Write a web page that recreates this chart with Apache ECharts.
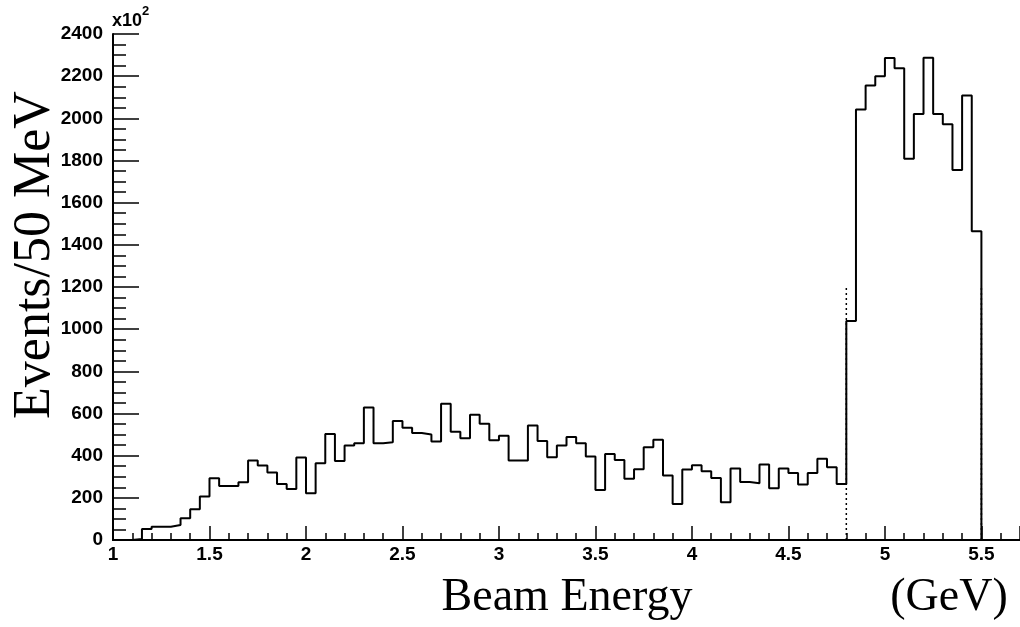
<!DOCTYPE html>
<html>
<head>
<meta charset="utf-8">
<script src="https://cdn.jsdelivr.net/npm/echarts@6/dist/echarts.min.js"></script>
<style>
html,body{margin:0;padding:0;background:#fff;}
#chart{width:1020px;height:627px;}
</style>
</head>
<body>
<div id="chart"></div>
<script>
// Histogram: Events per 50 MeV bin, bins start at 1.00 GeV
const binStart = 1.0;
const binWidth = 0.05;
const counts = [
  0, 0, 5, 52, 63, 63, 71, 103, 146, 206,
  293, 256, 256, 274, 377, 353, 320, 266, 242, 391,
  222, 364, 503, 375, 448, 459, 628, 459, 464, 564,
  533, 507, 500, 467, 646, 514, 483, 594, 551, 473,
  494, 377, 377, 543, 470, 393, 448, 488, 459, 396,
  237, 408, 380, 291, 336, 440, 476, 306, 171, 334,
  355, 326, 294, 179, 339, 275, 269, 358, 245, 339,
  318, 263, 318, 385, 345, 266, 1039, 2042, 2156, 2200,
  2286, 2238, 1808, 2021, 2287, 2021, 1972, 1755, 2108, 1464
];
// dotted cut lines (GeV) and their height
const cutPositions = [4.8, 5.5];
const cutHeight = 1200;

const xTitle = 'Beam Energy';
const xUnit = '(GeV)';
const yTitle = 'Events/50 MeV';
const yScaleBase = 'x10';
const yScaleExp = '2';

// build step-line data from bin edges
const histData = [];
counts.forEach((c, k) => {
  histData.push([+(binStart + k * binWidth).toFixed(4), c]);
});
const lastEdge = +(binStart + counts.length * binWidth).toFixed(4);
histData.push([lastEdge, counts[counts.length - 1]]);
histData.push([lastEdge, 0]);

const cutSeries = cutPositions.map(x => ({
  type: 'line',
  data: [[x, 0], [x, cutHeight]],
  symbol: 'none',
  lineStyle: { color: '#000', width: 1.5, type: [2, 3] },
  silent: true,
  z: 1
}));

const sans = "'Liberation Sans', Arial, sans-serif";
const labelFont = { fontFamily: sans, fontWeight: 'bold', fontSize: 19, color: '#000' };

const chart = echarts.init(document.getElementById('chart'), null, { renderer: 'canvas' });
chart.setOption({
  animation: false,
  backgroundColor: '#fff',
  grid: { left: 113, right: 0, top: 34, bottom: 87, containLabel: false },
  xAxis: [{
    type: 'value',
    min: 1, max: 5.7, interval: 0.5,
    axisLine: { show: true, onZero: false, lineStyle: { color: '#000', width: 2 } },
    axisTick: { show: true, inside: true, length: 14, lineStyle: { color: '#000', width: 1.5 } },
    minorTick: { show: true, splitNumber: 5, length: 7, lineStyle: { color: '#000', width: 1.5 } },
    splitLine: { show: false },
    axisLabel: Object.assign({ margin: 5, showMaxLabel: false, formatter: v => String(v) }, labelFont)
  }, {
    type: 'value', position: 'top',
    min: 1, max: 5.7,
    axisLine: { show: true, lineStyle: { color: '#000', width: 2 } },
    axisTick: { show: false }, axisLabel: { show: false }, splitLine: { show: false }
  }],
  yAxis: {
    type: 'value',
    min: 0, max: 2400, interval: 200,
    axisLine: { show: true, lineStyle: { color: '#000', width: 2 } },
    axisTick: { show: true, inside: true, length: 26, lineStyle: { color: '#000', width: 1.5 } },
    minorTick: { show: true, splitNumber: 4, length: 13, lineStyle: { color: '#000', width: 1.5 } },
    splitLine: { show: false },
    axisLabel: Object.assign({ margin: 10, formatter: v => String(v) }, labelFont)
  },
  series: [{
    type: 'line',
    data: histData,
    step: 'end',
    symbol: 'none',
    lineStyle: { color: '#000', width: 2 },
    silent: true,
    z: 3
  }].concat(cutSeries),
  graphic: [
    { type: 'text', left: 112, top: 12,
      style: { text: yScaleBase, fontFamily: sans, fontWeight: 'bold', fontSize: 18, fill: '#000' } },
    { type: 'text', left: 142, top: 5,
      style: { text: yScaleExp, fontFamily: sans, fontWeight: 'bold', fontSize: 13, fill: '#000' } },
    { type: 'text', x: 567, y: 598,
      style: { text: xTitle, fontFamily: 'Liberation Serif', fontSize: 46, fill: '#000', align: 'center', verticalAlign: 'middle' } },
    { type: 'text', x: 949, y: 598,
      style: { text: xUnit, fontFamily: 'Liberation Serif', fontSize: 46, fill: '#000', align: 'center', verticalAlign: 'middle' } },
    { type: 'text', x: 35, y: 255, rotation: Math.PI / 2,
      style: { text: yTitle, fontFamily: 'Liberation Serif', fontSize: 52, fill: '#000', align: 'center', verticalAlign: 'middle' } }
  ]
});
</script>
</body>
</html>
